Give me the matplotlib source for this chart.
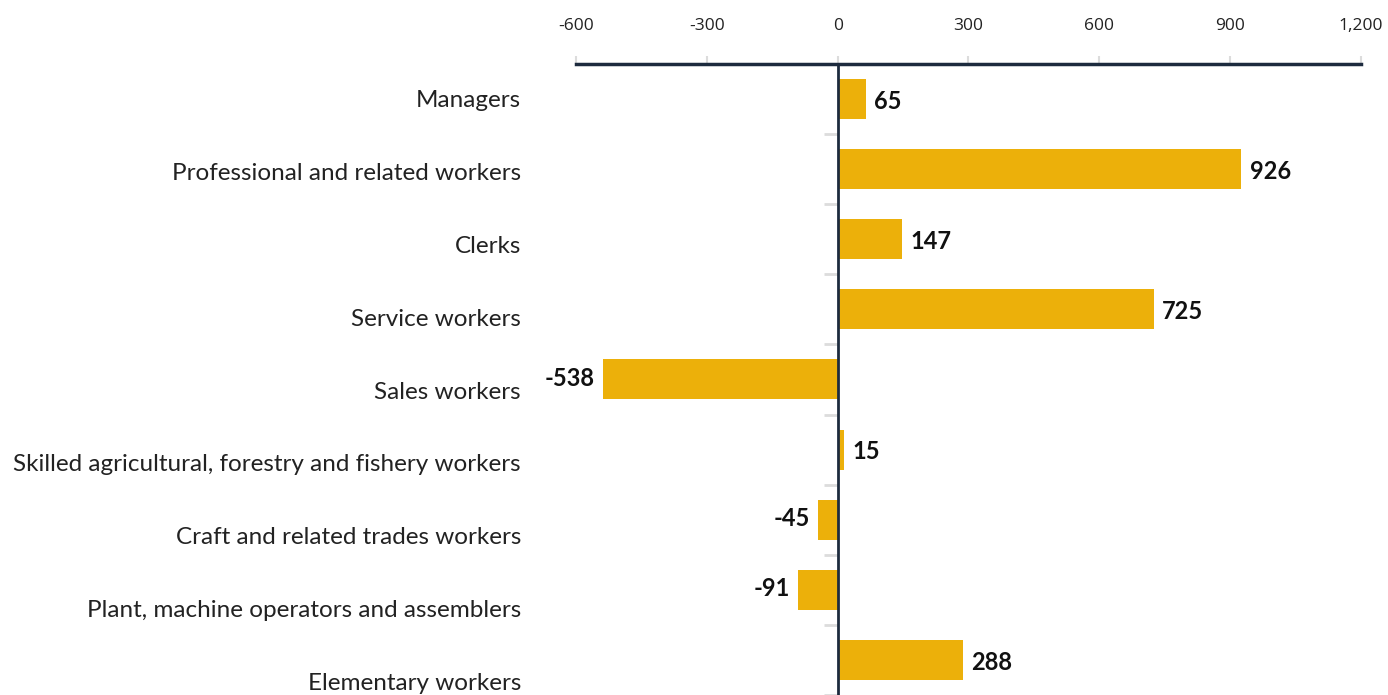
import matplotlib.pyplot as plt
import numpy as np

categories = [
    'Managers',
    'Professional and related workers',
    'Clerks',
    'Service workers',
    'Sales workers',
    'Skilled agricultural, forestry and fishery workers',
    'Craft and related trades workers',
    'Plant, machine operators and assemblers',
    'Elementary workers',
]
values = [65, 926, 147, 725, -538, 15, -45, -91, 288]
xticks = [-600, -300, 0, 300, 600, 900, 1200]
xtick_labels = ['-600', '-300', '0', '300', '600', '900', '1,200']

bar_color = '#ECB00A'
navy = '#1d2b3e'
grid_gray = '#dcdcdc'

fig = plt.figure(figsize=(13.88, 6.95), dpi=100)
ax = fig.add_axes([0.415, 0.0, 0.5655, 0.908])

y = np.arange(len(categories))
ax.barh(y, values, height=0.57, color=bar_color, zorder=2)

ax.set_xlim(-600, 1200)
ax.set_ylim(len(categories) - 0.5, -0.5)

# x axis on top
ax.xaxis.tick_top()
ax.set_xticks(xticks)
ax.set_xticklabels(xtick_labels, family=['Liberation Sans Narrow', 'Open Sans'],
                   fontsize=12.5, color='#222222')
ax.tick_params(axis='x', length=6, width=1.5, color=grid_gray, pad=15.5)

# y axis sits on zero, with ticks between categories
ax.spines['left'].set_position(('data', 0))
ax.spines['left'].set_color(navy)
ax.spines['left'].set_linewidth(2)
ax.spines['left'].set_zorder(3)
ax.spines['top'].set_color(navy)
ax.spines['top'].set_linewidth(2.5)
ax.spines['right'].set_visible(False)
ax.spines['bottom'].set_visible(False)
ax.set_yticks(np.arange(len(categories)) + 0.5)
ax.set_yticklabels([])
ax.tick_params(axis='y', length=10, width=2, color=grid_gray)

# category names on a slightly stretched secondary scale
stretch = 1.0378
sec = ax.secondary_yaxis(-0.07, functions=(lambda v: v / stretch, lambda s: s * stretch))
sec.set_yticks(y)
sec.set_yticklabels(categories, family='Lato', fontsize=17.5, color='#222222')
sec.tick_params(length=0, pad=0)
sec.spines['left'].set_visible(False)

# value labels
for yi, v in zip(y, values):
    if v >= 0:
        ax.annotate(str(v), (v, yi), xytext=(6, -1.5), textcoords='offset points',
                    ha='left', va='center', fontsize=17, fontweight='bold',
                    family='Lato', color='#111111')
    else:
        ax.annotate(str(v), (v, yi), xytext=(-6, 1), textcoords='offset points',
                    ha='right', va='center', fontsize=17, fontweight='bold',
                    family='Lato', color='#111111')

fig.savefig('out.png', dpi=100)
